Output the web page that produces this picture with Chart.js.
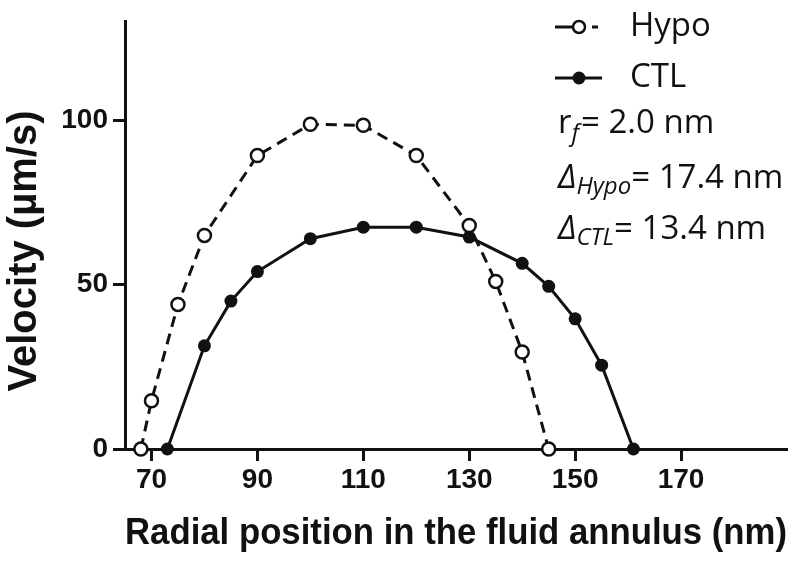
<!DOCTYPE html>
<html>
<head>
<meta charset="utf-8">
<script src="https://cdn.jsdelivr.net/npm/chart.js@4"></script>
<style>
  body { margin: 0; background: #fff; }
  #wrap { width: 800px; height: 563px; }
</style>
</head>
<body>
<div id="wrap"><canvas id="myChart"></canvas></div>
<script>
// data
const hypoX = [68, 70, 75, 80, 90, 100, 110, 120, 130, 135, 140, 145];
const hypoY = [0, 14.7, 44, 65, 89.3, 98.8, 98.5, 89.3, 68, 51, 29.5, 0];
const ctlX = [73, 80, 85, 90, 100, 110, 120, 130, 140, 145, 150, 155, 161];
const ctlY = [0, 31.4, 45, 54, 64, 67.5, 67.5, 64.5, 56.5, 49.5, 39.6, 25.5, 0];
const xTicks = [70, 90, 110, 130, 150, 170];
const yTicks = [0, 50, 100];
const seriesNames = ["Hypo", "CTL"];
const yTitle = "Velocity (\u00b5m/s)";

const ink = "#111";

function toPoints(xs, ys) {
  return xs.map((x, i) => ({ x: x, y: ys[i] }));
}

// y title, legend + parameter text on the right
const notes = {
  id: "notes",
  afterDraw(chart) {
    const ctx = chart.ctx;
    ctx.save();

    // y axis title (drawn here so it can sit a bit lower than centre)
    ctx.save();
    ctx.translate(25, 251);
    ctx.rotate(-Math.PI / 2);
    ctx.font = "bold 40px 'Liberation Sans', Arial, sans-serif";
    ctx.fillStyle = ink;
    ctx.textAlign = "center";
    ctx.textBaseline = "middle";
    ctx.fillText(yTitle, 0, 0);
    ctx.restore();

    ctx.strokeStyle = ink;
    ctx.fillStyle = ink;
    ctx.lineWidth = 3;

    // Hypo symbol
    ctx.beginPath();
    ctx.moveTo(555, 27); ctx.lineTo(572, 27);
    ctx.moveTo(592, 27); ctx.lineTo(598, 27);
    ctx.stroke();
    ctx.beginPath();
    ctx.arc(579, 27, 6, 0, Math.PI * 2);
    ctx.fillStyle = "#fff";
    ctx.fill();
    ctx.lineWidth = 2.5;
    ctx.stroke();

    // CTL symbol
    ctx.fillStyle = ink;
    ctx.lineWidth = 3;
    ctx.beginPath();
    ctx.moveTo(555, 78); ctx.lineTo(602, 78);
    ctx.stroke();
    ctx.beginPath();
    ctx.arc(579, 78, 6.5, 0, Math.PI * 2);
    ctx.fill();

    const main = "33px 'Open Sans'";
    const sub = "italic 24px 'Open Sans'";
    const ital = "italic 33px 'Open Sans'";
    ctx.textBaseline = "middle";
    ctx.font = main;
    ctx.fillText(seriesNames[0], 630, 27);
    ctx.fillText(seriesNames[1], 630, 78);

    ctx.textBaseline = "alphabetic";
    function run(x, y, parts) {
      parts.forEach((p) => {
        ctx.font = p.f;
        ctx.fillText(p.t, x, y + (p.dy || 0));
        x += ctx.measureText(p.t).width + (p.gap || 0);
      });
    }
    run(558, 133, [
      { t: "r", f: main },
      { t: "f", f: sub, dy: 8, gap: 2 },
      { t: "= 2.0 nm", f: main }
    ]);
    run(558, 188, [
      { t: "\u0394", f: ital },
      { t: "Hypo", f: sub, dy: 6 },
      { t: "= 17.4 nm", f: main }
    ]);
    run(558, 239, [
      { t: "\u0394", f: ital },
      { t: "CTL", f: sub, dy: 6 },
      { t: "= 13.4 nm", f: main }
    ]);
    ctx.restore();
  }
};

const data = {
  datasets: [
    {
      label: seriesNames[0],
      data: toPoints(hypoX, hypoY),
      borderColor: ink,
      borderWidth: 3,
      borderDash: [11, 7],
      pointRadius: 6.5,
      pointBorderWidth: 2.5,
      pointBackgroundColor: "#fff",
      pointBorderColor: ink,
      clip: false
    },
    {
      label: seriesNames[1],
      data: toPoints(ctlX, ctlY),
      borderColor: ink,
      borderWidth: 3,
      pointRadius: 6.5,
      pointBorderWidth: 0,
      pointBackgroundColor: ink,
      clip: false
    }
  ]
};

const config = {
  type: "line",
  data: data,
  plugins: [notes],
  options: {
    responsive: true,
    maintainAspectRatio: false,
    animation: false,
    layout: { padding: { top: 12, right: 13, left: 0, bottom: 0 } },
    plugins: {
      legend: { display: false },
      tooltip: { enabled: false }
    },
    scales: {
      x: {
        type: "linear",
        min: 65,
        max: 190,
        afterBuildTicks: (axis) => { axis.ticks = xTicks.map((v) => ({ value: v })); },
        afterFit: (axis) => { axis.height = 114; },
        border: { display: true, color: ink, width: 3 },
        grid: { drawOnChartArea: false, tickLength: 12, tickWidth: 3, tickColor: ink },
        ticks: {
          color: ink,
          padding: 2,
          maxRotation: 0,
          font: { family: "'Liberation Sans', Arial, sans-serif", size: 28, weight: "bold" }
        },
        title: {
          display: true,
          text: "Radial position in the fluid annulus (nm)",
          color: ink,
          padding: { top: 0, bottom: 7 },
          font: { family: "'Liberation Sans', Arial, sans-serif", size: 36, weight: "bold" }
        }
      },
      y: {
        min: 0,
        max: 130,
        afterBuildTicks: (axis) => { axis.ticks = yTicks.map((v) => ({ value: v })); },
        afterFit: (axis) => { axis.width = 125; },
        border: { display: true, color: ink, width: 3 },
        grid: { drawOnChartArea: false, tickLength: 12, tickWidth: 3, tickColor: ink },
        ticks: {
          color: ink,
          padding: 5,
          font: { family: "'Liberation Sans', Arial, sans-serif", size: 28, weight: "bold" }
        }
      }
    }
  }
};

const ctx = document.getElementById("myChart").getContext("2d");
new Chart(ctx, config);
</script>
</body>
</html>
